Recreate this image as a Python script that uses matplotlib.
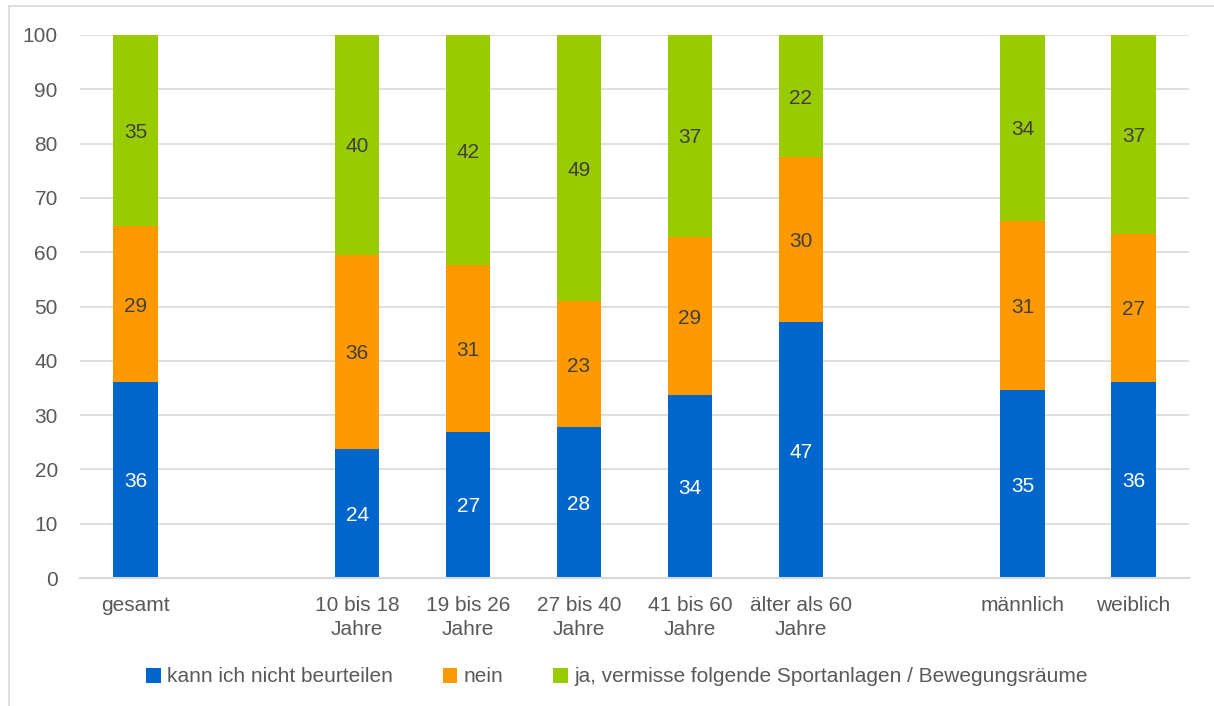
import matplotlib
matplotlib.use("Agg")
import matplotlib.pyplot as plt
from matplotlib.lines import Line2D
from matplotlib.patches import Patch

plt.rcParams['font.family'] = ['Liberation Sans', 'DejaVu Sans']

categories = ["gesamt", "", "10 bis 18\nJahre", "19 bis 26\nJahre", "27 bis 40\nJahre",
              "41 bis 60\nJahre", "älter als 60\nJahre", "", "männlich", "weiblich"]
kann_nicht = [36.1, None, 23.8, 26.9, 27.8, 33.7, 47.1, None, 34.6, 36.1]
nein = [28.7, None, 35.7, 30.7, 23.2, 29.1, 30.4, None, 31.2, 27.3]
ja = [35.2, None, 40.5, 42.4, 49.0, 37.2, 22.5, None, 34.2, 36.6]
series_names = ["kann ich nicht beurteilen", "nein",
                "ja, vermisse folgende Sportanlagen / Bewegungsräume"]
colors = ["#0066CC", "#FF9900", "#99CC00"]
text_colors = ["white", "#404040", "#404040"]

FS = 15

fig = plt.figure(figsize=(12.14, 7.06), dpi=100)
ax = fig.add_axes([80/1214, 1-578/706, (1189-80)/1214, (578-35)/706])

width = 0.4
for i in range(len(categories)):
    if kann_nicht[i] is None:
        continue
    bottom = 0
    for vals, c, tc in zip([kann_nicht, nein, ja], colors, text_colors):
        v = vals[i]
        ax.bar(i, v, width, bottom=bottom, color=c, zorder=2)
        ax.text(i, bottom + v/2, f"{round(v):d}", ha="center", va="center_baseline",
                color=tc, fontsize=FS, zorder=3)
        bottom += v

ax.set_xlim(-0.5, len(categories) - 0.5)
ax.set_ylim(0, 100)
ax.set_yticks(range(0, 101, 10))
ax.yaxis.grid(True, color="#D9D9D9", linewidth=1.2, zorder=0)
ax.set_axisbelow(True)
for s in ["top", "right", "left"]:
    ax.spines[s].set_visible(False)
ax.spines["bottom"].set_color("#D9D9D9")
ax.spines["bottom"].set_linewidth(1.5)
ax.set_xticks(range(len(categories)))
ax.set_xticklabels(categories)
ax.tick_params(axis="both", length=0, labelsize=FS, colors="#595959")
ax.tick_params(axis="x", pad=13)
ax.tick_params(axis="y", pad=16)
for lbl in ax.get_xticklabels():
    lbl.set_linespacing(1.3)

handles = [Patch(facecolor=c, edgecolor="none") for c in colors]
leg = fig.legend(handles, series_names, loc="center", bbox_to_anchor=(617/1214, 1-677/706),
                 ncol=3, frameon=False, fontsize=FS, handlelength=0.7, handleheight=0.7,
                 handletextpad=0.3, columnspacing=2.4)
for t in leg.get_texts():
    t.set_color("#595959")

# outer frame
fig.add_artist(Line2D([9/1214, 9/1214], [0, 1-6/706], color="#D9D9D9", linewidth=1.2,
                      transform=fig.transFigure))
fig.add_artist(Line2D([9/1214, 1], [1-6/706, 1-6/706], color="#D9D9D9", linewidth=1.2,
                      transform=fig.transFigure))

fig.savefig("out.png", dpi=100, facecolor="white")
